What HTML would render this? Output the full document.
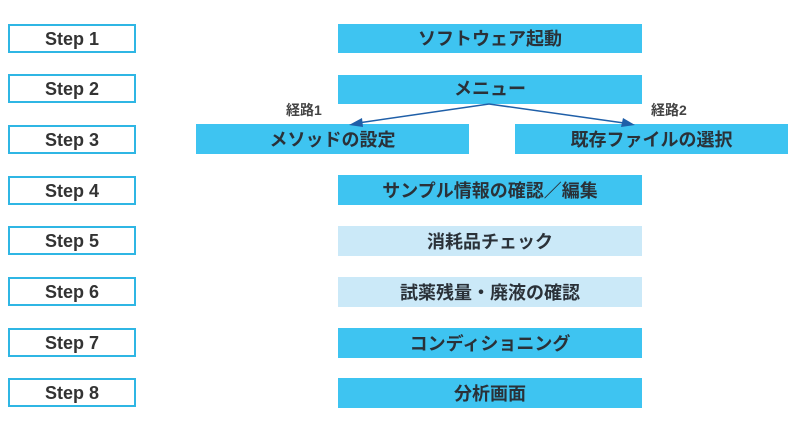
<!DOCTYPE html>
<html><head><meta charset="utf-8"><style>
html,body{margin:0;padding:0;background:#fff;width:800px;height:424px;overflow:hidden;position:relative;font-family:"Liberation Sans","Noto Sans CJK JP",sans-serif;}
.s{position:absolute;left:8px;width:124px;height:25px;border:2px solid #2fb6e4;background:#fff;color:#333;font-size:18px;font-weight:bold;text-align:center;line-height:26px;}
.b{position:absolute;background:#3ec4f1;color:#2a3138;font-size:18px;font-weight:bold;text-align:center;font-family:"Liberation Sans","Noto Sans CJK JP",sans-serif;}
.l{background:#cbe9f8;}
.t{position:absolute;font-size:14px;font-weight:bold;color:#444;}
</style></head><body>
<div class="s" style="top:24px">Step 1</div>
<div class="s" style="top:74px">Step 2</div>
<div class="s" style="top:125px">Step 3</div>
<div class="s" style="top:176px">Step 4</div>
<div class="s" style="top:226px">Step 5</div>
<div class="s" style="top:277px">Step 6</div>
<div class="s" style="top:328px">Step 7</div>
<div class="s" style="top:378px">Step 8</div>

<div class="b" style="left:338px;top:24px;width:304px;height:29px;line-height:31px">ソフトウェア起動</div>
<div class="b" style="left:338px;top:75px;width:304px;height:29px;line-height:28px">メニュー</div>
<div class="b" style="left:196px;top:124px;width:273px;height:30px;line-height:33px">メソッドの設定</div>
<div class="b" style="left:515px;top:124px;width:273px;height:30px;line-height:33px">既存ファイルの選択</div>
<div class="b" style="left:338px;top:175px;width:304px;height:30px;line-height:32px">サンプル情報の確認／編集</div>
<div class="b l" style="left:338px;top:226px;width:304px;height:30px;line-height:32px">消耗品チェック</div>
<div class="b l" style="left:338px;top:277px;width:304px;height:30px;line-height:32px">試薬残量・廃液の確認</div>
<div class="b" style="left:338px;top:328px;width:304px;height:30px;line-height:32px">コンディショニング</div>
<div class="b" style="left:338px;top:378px;width:304px;height:30px;line-height:32px">分析画面</div>

<div class="t" style="left:286px;top:100px">経路1</div>
<div class="t" style="left:651px;top:100px">経路2</div>

<svg width="800" height="424" style="position:absolute;left:0;top:0">
<g stroke="#1f5fa8" stroke-width="1.5" fill="none">
<line x1="489" y1="104" x2="358" y2="123"/>
<line x1="489" y1="104" x2="624" y2="123"/>
</g>
<polygon points="349,125 362,118 363,127" fill="#1f5fa8"/>
<polygon points="635,125 621,127 623,118" fill="#1f5fa8"/>
</svg>
</body></html>
